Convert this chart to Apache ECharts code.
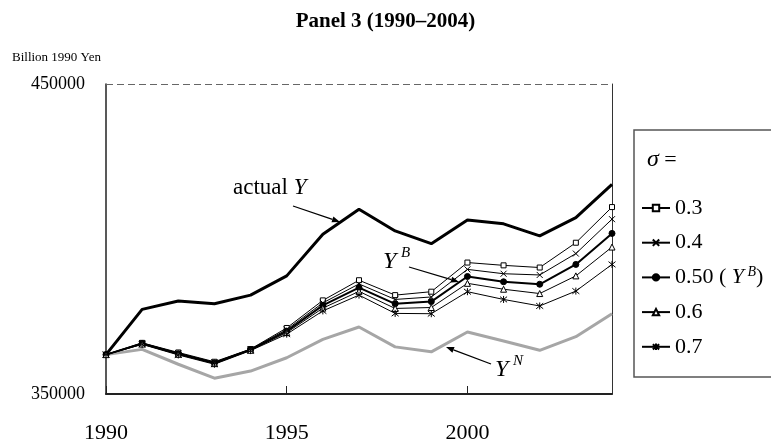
<!DOCTYPE html>
<html>
<head>
<meta charset="utf-8">
<script src="https://cdn.jsdelivr.net/npm/echarts@6/dist/echarts.min.js"></script>
<style>html,body{margin:0;padding:0;background:#fff;}#c{width:771px;height:447px;}</style>
</head>
<body>
<div id="c"></div>
<script>
var years = ['1990','1991','1992','1993','1994','1995','1996','1997','1998','1999','2000','2001','2002','2003','2004'];
var yTickLabels = [350000, 450000];
var actualY = [362700, 377300, 380000, 379100, 381900, 388100, 401500, 409600, 402600, 398500, 406100, 404900, 401000, 406900, 417600];
var yN      = [362700, 364400, 359600, 355100, 357400, 361700, 367600, 371600, 365200, 363600, 370000, 367100, 364100, 368500, 375900];
var s03 = [362700, 366500, 363400, 360400, 364500, 371300, 380200, 386700, 381900, 383000, 392400, 391500, 390800, 398800, 410300];
var s04 = [362700, 366400, 363200, 360200, 364400, 370800, 379400, 385500, 380500, 381300, 390200, 388800, 388400, 395300, 406400];
var s05 = [362700, 366300, 363000, 360000, 364300, 370300, 378600, 384300, 379100, 379800, 387900, 386200, 385400, 391800, 401800];
var s06 = [362700, 366100, 362800, 359800, 364100, 369800, 377700, 383100, 377600, 377900, 385700, 383800, 382400, 388100, 397400];
var s07 = [362700, 366000, 362600, 359600, 364000, 369300, 376800, 381900, 376000, 375900, 383000, 380500, 378400, 383200, 391800];
var sigmaNames = ['0.3', '0.4', '0.50', '0.6', '0.7'];

var FONT = '"Liberation Serif", "Times New Roman", serif';
var chart = echarts.init(document.getElementById('c'), null, {renderer: 'canvas', width: 771, height: 447});

function sigmaSeries(name, data, symbol, size, fill, width) {
  return {
    name: name, type: 'line', data: data, symbol: symbol, symbolSize: size,
    showSymbol: true, z: 5,
    lineStyle: {color: '#000', width: width},
    itemStyle: {color: fill, borderColor: '#000', borderWidth: 1},
    emphasis: {disabled: true}, animation: false
  };
}
function arrow(x1, y1, x2, y2) {
  var ang = Math.atan2(y2 - y1, x2 - x1), L = 8, W = 3;
  var bx = x2 - L * Math.cos(ang), by = y2 - L * Math.sin(ang);
  var px = -Math.sin(ang) * W, py = Math.cos(ang) * W;
  return [
    {type: 'line', shape: {x1: x1, y1: y1, x2: bx, y2: by}, style: {stroke: '#000', lineWidth: 1.3}, z: 20},
    {type: 'polygon', shape: {points: [[x2, y2], [bx + px, by + py], [bx - px, by - py]]}, style: {fill: '#000'}, z: 20}
  ];
}
var crossPath = 'path://M0,0L10,10M10,0L0,10';
var starPath = 'path://M1,1L9,9M9,1L1,9M5,0L5,10';

var graphics = [
  {type: 'text', left: 12, top: 51, style: {text: 'Billion 1990 Yen', font: '13px ' + FONT, fill: '#000'}},
  {type: 'rect', shape: {x: 634, y: 130, width: 200, height: 247}, style: {fill: 'none', stroke: '#555', lineWidth: 1.5}, z: 1},
  {type: 'text', left: 647, top: 148, style: {text: '{s|σ} =', font: '22px ' + FONT, fill: '#000', rich: {s: {fontStyle: 'italic', fontSize: 24, fontFamily: FONT}}}},
  {type: 'text', left: 233, top: 176, z: 20, style: {text: 'actual {i|Y}', font: '23px ' + FONT, fill: '#000', rich: {i: {fontStyle: 'italic', fontSize: 23, fontFamily: FONT}}}},
  {type: 'text', left: 383, top: 250, z: 20, style: {text: 'Y', font: 'italic 24px ' + FONT, fill: '#000'}},
  {type: 'text', left: 401, top: 246, z: 20, style: {text: 'B', font: 'italic 15px ' + FONT, fill: '#000'}},
  {type: 'text', left: 495, top: 358, z: 20, style: {text: 'Y', font: 'italic 24px ' + FONT, fill: '#000'}},
  {type: 'text', left: 513, top: 354, z: 20, style: {text: 'N', font: 'italic 15px ' + FONT, fill: '#000'}}
].concat(arrow(293, 206, 340, 222), arrow(409, 267, 459, 282), arrow(491, 364, 446, 347));

var option = {
  animation: false,
  backgroundColor: '#fff',
  title: {text: 'Panel 3 (1990–2004)', left: 'center', top: 6,
    textStyle: {fontFamily: FONT, fontWeight: 'bold', fontSize: 21, color: '#000'}},
  grid: {left: 106, right: 159, top: 84, bottom: 53},
  legend: {
    data: sigmaNames, orient: 'vertical', left: 641, top: 196, padding: 0,
    itemWidth: 28, itemHeight: 8, itemGap: 10.7,
    textStyle: {fontFamily: FONT, fontSize: 22, color: '#000', lineHeight: 24,
      rich: {i: {fontFamily: FONT, fontStyle: 'italic', fontSize: 22, lineHeight: 24},
             b: {fontFamily: FONT, fontStyle: 'italic', fontSize: 14, verticalAlign: 'top', lineHeight: 24, padding: [0, 0, 10, 0]},
             t: {fontFamily: FONT, fontSize: 22, lineHeight: 24}}},
    formatter: function (n) { return n === '0.50' ? '{t|0.50 ( }{i|Y}{b| B}{t|)}' : n; },
    selectedMode: false
  },
  xAxis: {
    type: 'category', data: years, boundaryGap: false,
    axisLine: {lineStyle: {color: '#222', width: 2}},
    axisTick: {show: true, inside: true, length: 8, interval: 4, lineStyle: {color: '#222', width: 1}},
    axisLabel: {interval: 4, margin: 28, fontFamily: FONT, fontSize: 22, color: '#000'},
    splitLine: {show: false}
  },
  yAxis: [{
    type: 'value', min: 350000, max: 450000, interval: 50000,
    axisLine: {show: true, lineStyle: {color: '#222', width: 1.5}},
    axisTick: {show: false},
    axisLabel: {margin: 21, fontFamily: FONT, fontSize: 18, color: '#000',
      formatter: function (v) { return yTickLabels.indexOf(v) >= 0 ? String(v) : ''; }},
    splitLine: {show: false}
  }, {
    type: 'value', min: 350000, max: 450000, interval: 50000, position: 'right',
    axisLine: {show: true, lineStyle: {color: '#333', width: 1}},
    axisTick: {show: false}, axisLabel: {show: false}, splitLine: {show: false}
  }],
  series: [
    {name: 'actual Y', type: 'line', data: actualY, symbol: 'none', z: 3,
      lineStyle: {color: '#000', width: 3}, itemStyle: {color: '#000'},
      markLine: {silent: true, symbol: 'none', label: {show: false},
        lineStyle: {color: '#666', type: [7, 4], width: 1.2}, data: [{yAxis: 450000}]}},
    {name: 'YN', type: 'line', data: yN, symbol: 'none', z: 3,
      lineStyle: {color: '#a6a6a6', width: 3}, itemStyle: {color: '#a6a6a6'}},
    sigmaSeries('0.3', s03, 'rect', 5, '#fff', 1),
    sigmaSeries('0.4', s04, crossPath, 6, '#000', 1),
    sigmaSeries('0.50', s05, 'circle', 6, '#000', 2),
    sigmaSeries('0.6', s06, 'triangle', 6, '#fff', 1),
    sigmaSeries('0.7', s07, starPath, 7, '#000', 1)
  ],
  graphic: graphics
};
chart.setOption(option);
</script>
</body>
</html>
